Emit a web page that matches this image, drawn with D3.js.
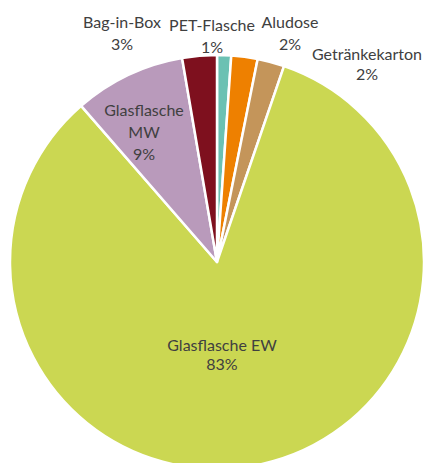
<!DOCTYPE html>
<html>
<head>
<meta charset="utf-8">
<script src="https://cdn.jsdelivr.net/npm/d3@7"></script>
<style>
html,body{margin:0;padding:0;background:#fff;}
svg{display:block;}
</style>
</head>
<body>
<script>
// Data
const categories = ["PET-Flasche", "Aludose", "Getränkekarton", "Glasflasche EW", "Glasflasche MW", "Bag-in-Box"];
const values = [1.1, 2.05, 2.1, 83.4, 8.7, 2.7];
const percentLabels = ["1%", "2%", "2%", "83%", "9%", "3%"];
const colors = ["#6bc1b3", "#ee8000", "#c4955a", "#cbd752", "#b99abb", "#7e101e"];

// Layout (label text lines and anchor positions, kept separate from data)
const labelLines = [
  ["PET-Flasche"], ["Aludose"], ["Getränkekarton"], ["Glasflasche EW"], ["Glasflasche", "MW"], ["Bag-in-Box"]
];
const labelLayout = [
  {x: 212, y: 31, dy: 22},
  {x: 290, y: 28, dy: 22},
  {x: 367, y: 60, dy: 20},
  {x: 222, y: 351, dy: 19},
  {x: 144, y: 116, dy: 22},
  {x: 122, y: 28, dy: 22}
];

const W = 428, H = 463;
const cx = 217, cy = 262, R = 207;

const svg = d3.select("body").append("svg").attr("width", W).attr("height", H);
const g = svg.append("g").attr("transform", `translate(${cx},${cy})`);

const pie = d3.pie().sort(null).value(d => d.v).startAngle(0).endAngle(2 * Math.PI);
const arc = d3.arc().innerRadius(0).outerRadius(R);
const data = categories.map((c, i) => ({c, v: values[i], color: colors[i], i}));

g.selectAll("path").data(pie(data)).join("path")
  .attr("d", arc)
  .attr("fill", d => d.data.color)
  .attr("stroke", "#fff")
  .attr("stroke-width", 2.5)
  .attr("stroke-linejoin", "round");

const lab = svg.append("g")
  .attr("font-family", "Lato, 'Open Sans', sans-serif")
  .attr("font-size", 16)
  .attr("fill", "#404040")
  .attr("text-anchor", "middle");

data.forEach((d, i) => {
  const L = labelLayout[i];
  const lines = labelLines[i].concat([percentLabels[i]]);
  const t = lab.append("text");
  lines.forEach((ln, k) => {
    t.append("tspan").attr("x", L.x).attr("y", L.y + k * L.dy).text(ln);
  });
});
</script>
</body>
</html>
